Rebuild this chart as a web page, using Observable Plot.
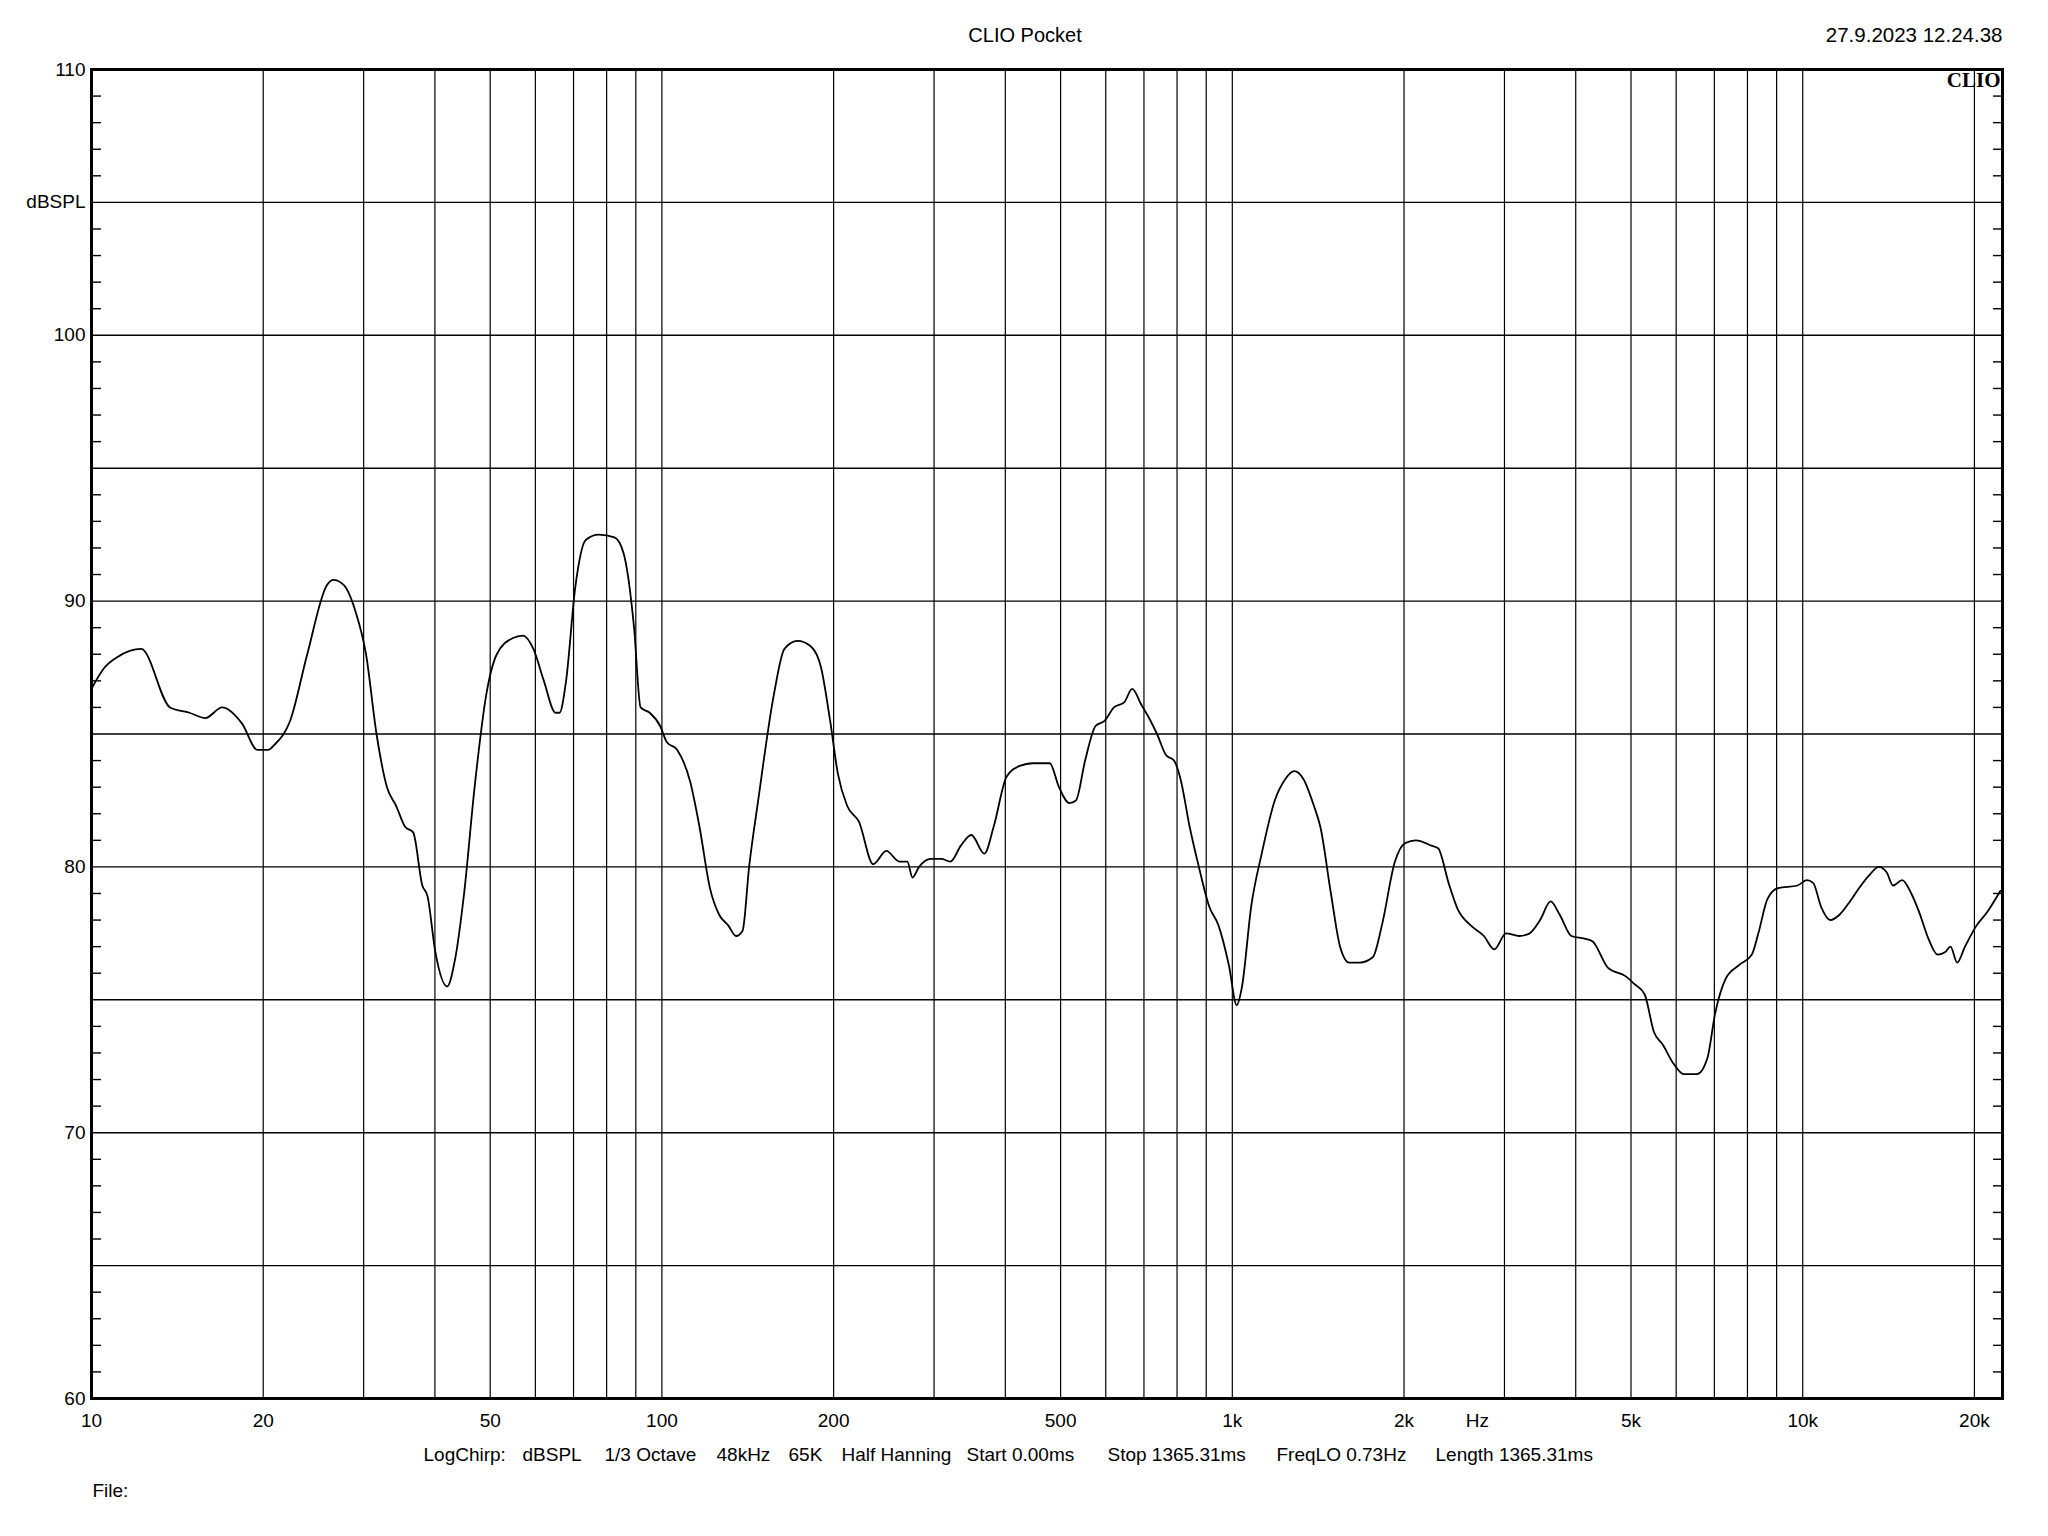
<!DOCTYPE html>
<html>
<head>
<meta charset="utf-8">
<script src="https://cdn.jsdelivr.net/npm/d3@7"></script>
<script src="https://cdn.jsdelivr.net/npm/@observablehq/plot@0.6"></script>
<style>
  html, body { margin: 0; padding: 0; background: #fff; overflow: hidden; }
  #chart svg { display: block; }
</style>
</head>
<body>
<div id="chart"></div>
<script>
// ---- data ----
const freqHz = [10, 10.54, 11.11, 12.22, 13.73, 14.85, 15.83, 16.95, 18.35, 19.55, 20.39, 20.94, 22.30, 23.89, 25.86, 26.55, 27.70, 29.04, 30.29, 31.60, 32.96, 34.20, 35.49, 36.64, 38.02, 38.82, 40.07, 42.02, 43.37, 45.00, 46.95, 49.23, 51.35, 54.70, 57.06, 59.52, 62.09, 65.11, 66.15, 67.92, 70.47, 73.52, 77.50, 82.56, 85.67, 89.37, 91.76, 95.21, 99.31, 101.97, 106.4, 112.1, 116.4, 121.4, 126.0, 130.7, 134.9, 138.5, 142.2, 147.5, 157.2, 164.0, 172.9, 182.3, 190.1, 197.2, 203.5, 211.2, 221.5, 234.7, 247.4, 260.9, 269.3, 275.0, 282.4, 296.1, 308.9, 320.5, 334.3, 348.7, 367.6, 381.5, 402.2, 424.0, 446.9, 478.6, 496.7, 518.1, 532.0, 552.0, 575.8, 597.5, 620.0, 646.8, 667.5, 692.7, 718.7, 737.9, 765.6, 790.3, 811.5, 842.0, 873.7, 911.4, 945.7, 986.3, 1018, 1040, 1079, 1126, 1187, 1238, 1284, 1333, 1390, 1427, 1489, 1545, 1603, 1672, 1763, 1829, 1928, 2011, 2098, 2235, 2295, 2394, 2485, 2618, 2761, 2879, 3020, 3184, 3321, 3464, 3614, 3750, 3932, 4145, 4279, 4558, 4882, 5066, 5284, 5483, 5689, 5934, 6189, 6524, 6805, 7024, 7329, 7726, 8143, 8360, 8675, 9049, 9795, 10160, 10430, 10770, 11180, 11600, 12100, 12550, 13100, 13590, 14030, 14400, 14940, 15500, 16000, 16610, 17240, 17780, 18160, 18650, 19250, 20180, 21060, 22210];
const splDb = [86.7, 87.5, 87.9, 88.2, 86.0, 85.8, 85.6, 86.0, 85.4, 84.4, 84.4, 84.6, 85.5, 88.0, 90.6, 90.8, 90.6, 89.6, 88.0, 85.0, 83.0, 82.3, 81.5, 81.3, 79.3, 78.9, 76.8, 75.5, 76.5, 79.0, 83.0, 86.5, 88.0, 88.6, 88.7, 88.2, 87.0, 85.8, 85.8, 87.0, 90.5, 92.3, 92.5, 92.4, 91.8, 89.0, 86.0, 85.8, 85.3, 84.7, 84.4, 83.2, 81.5, 79.2, 78.2, 77.8, 77.4, 77.6, 80.0, 82.5, 86.5, 88.2, 88.5, 88.3, 87.5, 85.5, 83.5, 82.3, 81.7, 80.1, 80.6, 80.2, 80.2, 79.6, 80.0, 80.3, 80.3, 80.2, 80.8, 81.2, 80.5, 81.5, 83.4, 83.8, 83.9, 83.9, 83.0, 82.4, 82.5, 84.0, 85.3, 85.5, 86.0, 86.2, 86.7, 86.1, 85.5, 85.0, 84.2, 84.0, 83.3, 81.5, 80.0, 78.5, 77.8, 76.3, 74.8, 75.5, 78.5, 80.5, 82.5, 83.3, 83.6, 83.3, 82.3, 81.5, 79.0, 77.0, 76.4, 76.4, 76.6, 77.8, 80.2, 80.9, 81.0, 80.8, 80.7, 79.4, 78.4, 77.8, 77.4, 76.9, 77.5, 77.4, 77.5, 78.0, 78.7, 78.2, 77.4, 77.3, 77.2, 76.2, 75.9, 75.6, 75.2, 73.8, 73.3, 72.6, 72.2, 72.2, 72.8, 74.5, 75.8, 76.3, 76.7, 77.5, 78.8, 79.2, 79.3, 79.5, 79.4, 78.5, 78.0, 78.2, 78.7, 79.2, 79.7, 80.0, 79.8, 79.3, 79.5, 79.0, 78.3, 77.3, 76.7, 76.8, 77.0, 76.4, 77.0, 77.8, 78.3, 79.1];

const gridFreqs = [10, 20, 30, 40, 50, 60, 70, 80, 90, 100, 200, 300, 400, 500, 600, 700, 800, 900, 1000, 2000, 3000, 4000, 5000, 6000, 7000, 8000, 9000, 10000, 20000];
const xTickValues = [10, 20, 50, 100, 200, 500, 1000, 2000, 5000, 10000, 20000];
const xTickLabels = ["10", "20", "50", "100", "200", "500", "1k", "2k", "5k", "10k", "20k"];
const unitLabelFreq = [2690];
const gridDb = [60, 65, 70, 75, 80, 85, 90, 95, 100, 105, 110];
const yTickValues = [60, 70, 80, 90, 100, 110];
const minorDb = [61,62,63,64,66,67,68,69,71,72,73,74,76,77,78,79,81,82,83,84,86,87,88,89,91,92,93,94,96,97,98,99,101,102,103,104,106,107,108,109];
const captionItems = ["LogChirp:", "dBSPL", "1/3 Octave", "48kHz", "65K", "Half Hanning", "Start 0.00ms", "Stop 1365.31ms", "FreqLO 0.73Hz", "Length 1365.31ms"];
const captionOffsets = [332, 431, 513, 625, 697, 750, 875, 1016, 1185, 1344];

const data = freqHz.map((f, i) => ({f, db: splDb[i]}));

const font = "'Liberation Sans', Arial, sans-serif";

const captionMarks = captionItems.map((t, i) =>
  Plot.text([t], {frameAnchor: "bottom-left", textAnchor: "start", dx: captionOffsets[i], dy: 56, lineAnchor: "middle", fontSize: 19, fill: "#000"})
);

const chart = Plot.plot({
  width: 2048,
  height: 1536,
  marginLeft: 91,
  marginRight: 46,
  marginTop: 69,
  marginBottom: 138,
  style: {background: "#fff", color: "#000", fontFamily: font, fontSize: "19px"},
  x: {type: "log", domain: [10, 22400], axis: null},
  y: {domain: [60, 110]},
  marks: [
    Plot.ruleX(gridFreqs, {stroke: "#000", strokeWidth: 1.2}),
    Plot.ruleY(gridDb, {stroke: "#000", strokeWidth: 1.4}),
    Plot.axisY({ticks: minorDb, anchor: "left", tickSize: -10, tickFormat: () => "", label: null, stroke: "#000", strokeWidth: 1.4}),
    Plot.axisY({ticks: minorDb, anchor: "right", tickSize: -10, tickFormat: () => "", label: null, stroke: "#000", strokeWidth: 1.4}),
    Plot.axisY({ticks: yTickValues, anchor: "left", tickSize: 0, tickPadding: 6, fontSize: 19, fill: "#000", label: null}),
    Plot.text(xTickValues, {x: d => d, text: (d, i) => xTickLabels[i], frameAnchor: "bottom", lineAnchor: "top", dy: 15, fontSize: 19, fill: "#000"}),
    Plot.text(unitLabelFreq, {x: d => d, frameAnchor: "bottom", text: () => "Hz", lineAnchor: "top", dy: 15, fontSize: 19, fill: "#000"}),
    Plot.text(["dBSPL"], {y: () => 105, frameAnchor: "left", textAnchor: "end", dx: -6, fontSize: 19, fill: "#000"}),
    Plot.line(data, {x: "f", y: "db", stroke: "#000", strokeWidth: 1.8, curve: "monotone-x", clip: true}),
    Plot.frame({stroke: "#000", strokeWidth: 3}),
    Plot.text(["CLIO Pocket"], {frameAnchor: "top", dx: -22, dy: -34, lineAnchor: "middle", fontSize: 20, fill: "#000"}),
    Plot.text(["27.9.2023 12.24.38"], {frameAnchor: "top-right", textAnchor: "end", dy: -34, lineAnchor: "middle", fontSize: 20.5, fill: "#000"}),
    Plot.text(["CLIO"], {frameAnchor: "top-right", textAnchor: "end", dx: -2, dy: 3, lineAnchor: "top", fontSize: 21, fontWeight: "bold", fontFamily: "'Liberation Serif', 'DejaVu Serif', serif", fill: "#000"}),
    ...captionMarks,
    Plot.text(["File:"], {frameAnchor: "bottom-left", textAnchor: "start", dx: 1, dy: 92, lineAnchor: "middle", fontSize: 19, fill: "#000"})
  ]
});

document.getElementById("chart").appendChild(chart);
</script>
</body>
</html>
